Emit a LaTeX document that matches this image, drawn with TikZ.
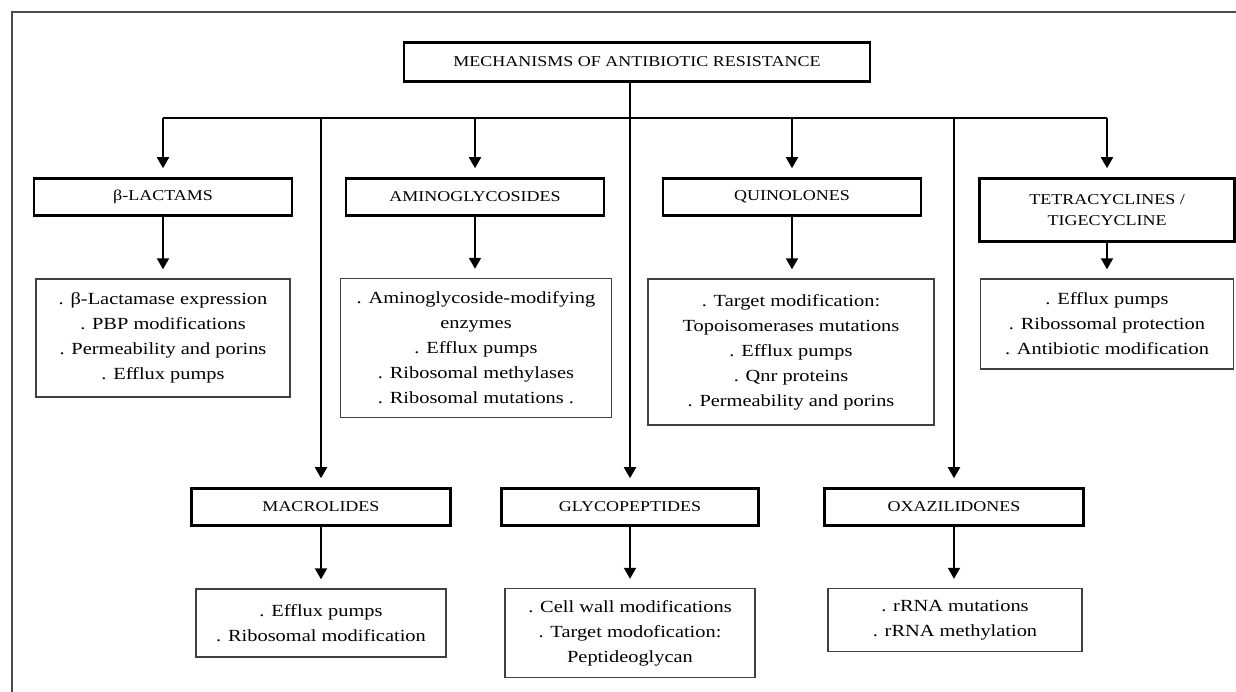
\documentclass[tikz,border=0pt]{standalone}
\usepackage{fontspec}
\setmainfont{Liberation Serif}[FakeStretch=1.2]
\usetikzlibrary{arrows.meta,positioning}

\begin{document}
\begin{tikzpicture}[>={Triangle[length=11pt,width=12pt]}, x=1pt, y=-1pt,
  head/.style={draw, line width=2.6pt, minimum width=258pt, minimum height=37pt,
    inner sep=2pt, align=center, font=\fontsize{15}{21}\selectfont},
  list/.style={draw=black!75, line width=1.4pt, inner sep=2pt, align=center,
    font=\fontsize{17}{25}\selectfont},
  link/.style={->, line width=2pt, shorten >=9pt}]
\useasboundingbox (0,0) rectangle (1236,692);
% Frame
\draw[line width=1.8pt, black!70] (12,692) -- (12,12) -- (1236,12);

% Title
\node[head, minimum width=466pt, minimum height=39pt] (root) at (637,62)
  {MECHANISMS OF ANTIBIOTIC RESISTANCE};
\coordinate (bus) at (637,118);

% Upper classes
\node[head] (lact) at (163,197) {β-LACTAMS};
\node[head] (amino) at (475,197) {AMINOGLYCOSIDES};
\node[head] (quino) at (792,197) {QUINOLONES};
\node[head, minimum width=255pt, minimum height=63pt] (tetra) at (1107,210)
  {TETRACYCLINES /\\ TIGECYCLINE};

\node[list, minimum width=254pt, minimum height=118pt] (lact-list) at (163,338)
  {. β-Lactamase expression\\ . PBP modifications\\ . Permeability and porins\\ . Efflux pumps};
\node[list, minimum width=271pt, minimum height=139pt] (amino-list) at (476,348)
  {. Aminoglycoside-modifying\\ enzymes\\ . Efflux pumps\\ . Ribosomal methylases\\ . Ribosomal mutations .};
\node[list, minimum width=286pt, minimum height=146pt] (quino-list) at (791,352)
  {. Target modification:\\ Topoisomerases mutations\\ . Efflux pumps\\ . Qnr proteins\\ . Permeability and porins};
\node[list, minimum width=253pt, minimum height=90pt] (tetra-list) at (1107,324)
  {. Efflux pumps\\ . Ribossomal protection\\ . Antibiotic modification};

% Lower classes
\node[head, minimum width=259pt] (macro) at (321,507) {MACROLIDES};
\node[head, minimum width=257pt] (glyco) at (630,507) {GLYCOPEPTIDES};
\node[head, minimum width=259pt] (oxa) at (954,507) {OXAZILIDONES};

\node[list, minimum width=250pt, minimum height=68pt] (macro-list) at (321,623)
  {. Efflux pumps\\ . Ribosomal modification};
\node[list, minimum width=250pt, minimum height=89pt] (glyco-list) at (630,633)
  {. Cell wall modifications\\ . Target modofication:\\ Peptideoglycan};
\node[list, minimum width=254pt, minimum height=63pt] (oxa-list) at (955,620)
  {. rRNA mutations\\ . rRNA methylation};

% Connectors
\draw[line width=2pt] (lact |- bus) -- (tetra |- bus);
\draw[link] (root.south -| glyco) -- (glyco);
\foreach \n in {lact,amino,quino,tetra,macro,oxa}
  \draw[link] (\n |- bus) -- (\n);
\foreach \n in {lact,amino,quino,tetra,macro,glyco,oxa}
  \draw[link] (\n.south) -- (\n.south |- \n-list.north);
\end{tikzpicture}
\end{document}
